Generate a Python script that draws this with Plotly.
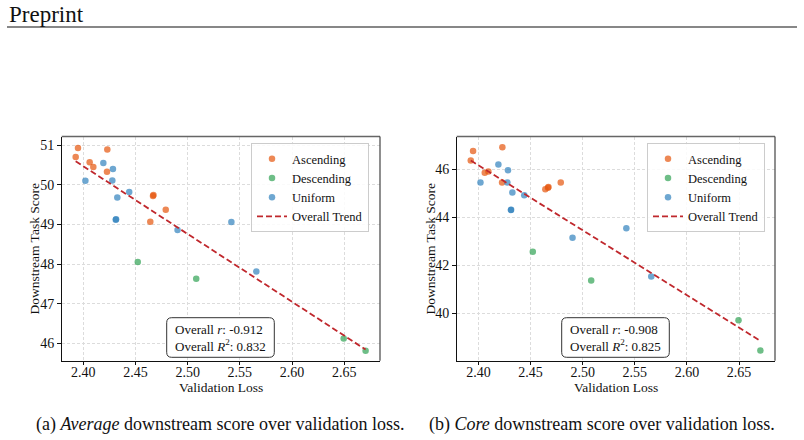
import numpy as np
import plotly.graph_objects as go

# ---------------- data ----------------
loss_asc = [2.3927, 2.3949, 2.4061, 2.4096, 2.4227, 2.4230, 2.4642, 2.4668, 2.4672, 2.4790]
avg_asc = [50.70, 50.93, 50.57, 50.45, 50.33, 50.89, 49.07, 49.72, 49.74, 49.37]
core_asc = [46.36, 46.76, 45.85, 45.90, 45.45, 46.91, 45.16, 45.23, 45.26, 45.45]

loss_desc = [2.4522, 2.5082, 2.6495, 2.6705]
avg_desc = [48.05, 47.63, 46.12, 45.81]
core_desc = [42.56, 41.37, 39.71, 38.45]

loss_uni = [2.4020, 2.4192, 2.4284, 2.4278, 2.4326, 2.4440, 2.4311, 2.4314, 2.4903, 2.5419, 2.5658]
avg_uni = [50.10, 50.55, 50.40, 50.11, 49.68, 49.82, 49.12, 49.13, 48.86, 49.06, 47.81]
core_uni = [45.45, 46.19, 45.96, 45.45, 45.03, 44.92, 44.30, 44.31, 43.15, 43.54, 41.53]

stats_avg = ["Overall <i>r</i>: -0.912", "Overall <i>R</i><sup>2</sup>: 0.832"]
stats_core = ["Overall <i>r</i>: -0.908", "Overall <i>R</i><sup>2</sup>: 0.825"]

x_ticks = [2.40, 2.45, 2.50, 2.55, 2.60, 2.65]
avg_ticks = [46, 47, 48, 49, 50, 51]
core_ticks = [40, 42, 44, 46]

groups = [("Ascending", "#E6550D"), ("Descending", "#31A354"), ("Uniform", "#3182BD")]
TREND = "#C0282D"
FONT = "Liberation Serif, Times New Roman, serif"

W, H = 804, 440
def px(x):
    return x / W
def py(y):
    return 1 - y / H

fig = go.Figure()

panels = [
    ("x", "y", [avg_asc, avg_desc, avg_uni], "legend"),
    ("x2", "y2", [core_asc, core_desc, core_uni], "legend2"),
]
loss_sets = [loss_asc, loss_desc, loss_uni]

for xa, ya, ys, leg in panels:
    for (name, col), lx, ly in zip(groups, loss_sets, ys):
        fig.add_trace(go.Scatter(
            x=lx, y=ly, mode="markers", name=name, xaxis=xa, yaxis=ya,
            marker=dict(color=col, size=6.5, opacity=0.7, line=dict(width=0)),
            legend=leg, showlegend=True))
    allx = np.array(loss_asc + loss_desc + loss_uni)
    ally = np.array(ys[0] + ys[1] + ys[2])
    k, b = np.polyfit(allx, ally, 1)
    xs = np.array([allx.min(), allx.max()])
    fig.add_trace(go.Scatter(
        x=xs, y=k * xs + b, mode="lines", name="Overall Trend", xaxis=xa, yaxis=ya,
        line=dict(color=TREND, width=1.8, dash="6px,3px"), legend=leg))

L1, R1 = 61.7, 380.0
L2, R2 = 456.7, 775.0
T, B = 136.5, 360.7

axis_common = dict(
    showline=True, linecolor="#111", linewidth=1.1, mirror=False,
    ticks="outside", ticklen=3.5, tickwidth=1, tickcolor="#111",
    showgrid=True, gridcolor="#dcdcdc", gridwidth=0.8, griddash="3px,2px",
    zeroline=False, tickfont=dict(family=FONT, size=14, color="#111"),
)

legend_common = dict(xanchor="left", yanchor="top",
                     bgcolor="rgba(255,255,255,0.85)", bordercolor="#cccccc", borderwidth=1,
                     font=dict(family=FONT, size=12.5, color="#111"), tracegroupgap=0,
                     itemwidth=30)

fig.update_layout(
    width=W, height=H, margin=dict(l=0, r=0, t=0, b=0),
    paper_bgcolor="white", plot_bgcolor="white",
    font=dict(family=FONT, color="#111"),
    xaxis=dict(domain=[px(L1), px(R1)], range=[2.3793, 2.6843], tickvals=x_ticks,
               ticktext=[f"{v:.2f}" for v in x_ticks], anchor="y", ticklabelstandoff=-5,
               **axis_common),
    yaxis=dict(domain=[py(B), py(T)], range=[45.56, 51.22], tickvals=avg_ticks,
               anchor="x", **axis_common),
    xaxis2=dict(domain=[px(L2), px(R2)], range=[2.3792, 2.6845], tickvals=x_ticks,
                ticktext=[f"{v:.2f}" for v in x_ticks], anchor="y2", ticklabelstandoff=-5,
                **axis_common),
    yaxis2=dict(domain=[py(B), py(T)], range=[38.03, 47.36], tickvals=core_ticks,
                anchor="x2", **axis_common),
    legend=dict(x=px(251), y=py(143), **legend_common),
    legend2=dict(x=px(647), y=py(143), **legend_common),
)

shapes = []
# top/right spines (gray)
for L, R in [(L1, R1), (L2, R2)]:
    shapes.append(dict(type="line", xref="paper", yref="paper", x0=px(L), x1=px(R),
                       y0=py(T), y1=py(T), line=dict(color="#666", width=1.3)))
    shapes.append(dict(type="line", xref="paper", yref="paper", x0=px(R), x1=px(R),
                       y0=py(T), y1=py(B), line=dict(color="#444", width=1.2)))

def rounded_rect(x0, y0, x1, y1, r):
    def P(x, y):
        return f"{px(x)},{py(y)}"
    return (f"M {P(x0 + r, y0)} L {P(x1 - r, y0)} Q {P(x1, y0)} {P(x1, y0 + r)} "
            f"L {P(x1, y1 - r)} Q {P(x1, y1)} {P(x1 - r, y1)} L {P(x0 + r, y1)} "
            f"Q {P(x0, y1)} {P(x0, y1 - r)} L {P(x0, y0 + r)} Q {P(x0, y0)} {P(x0 + r, y0)} Z")

for bx in [166.7, 561.7]:
    shapes.append(dict(type="path", xref="paper", yref="paper",
                       path=rounded_rect(bx, 317.7, bx + 107.6, 357.3, 5),
                       line=dict(color="#333", width=1), fillcolor="white"))

# header rule
shapes.append(dict(type="line", xref="paper", yref="paper", x0=px(7), x1=px(797),
                   y0=py(27), y1=py(27), line=dict(color="#111", width=1.2)))
fig.update_layout(shapes=shapes)

ann = []
def text(x, y, s, size=13, xanchor="center", yanchor="middle", angle=0, align="center"):
    ann.append(dict(x=px(x), y=py(y), xref="paper", yref="paper", text=s, showarrow=False,
                    xanchor=xanchor, yanchor=yanchor, textangle=angle, align=align,
                    font=dict(family=FONT, size=size, color="#111")))

for bx, st in [(172.5, stats_avg), (567.5, stats_core)]:
    text(bx, 337.5, "<br>".join(st), size=13, xanchor="left", align="left")

text(33.5, 249, "Downstream Task Score", size=13.5, angle=-90)
text(429.5, 249, "Downstream Task Score", size=13.5, angle=-90)
text((L1 + R1) / 2, 387, "Validation Loss", size=13.5)
text((L2 + R2) / 2, 387, "Validation Loss", size=13.5)

text(7, 15, "Preprint", size=23, xanchor="left")
text(220, 424, "(a) <i>Average</i> downstream score over validation loss.", size=18)
text(602, 424, "(b) <i>Core</i> downstream score over validation loss.", size=18)
fig.update_layout(annotations=ann)

fig.write_html("out.html")
